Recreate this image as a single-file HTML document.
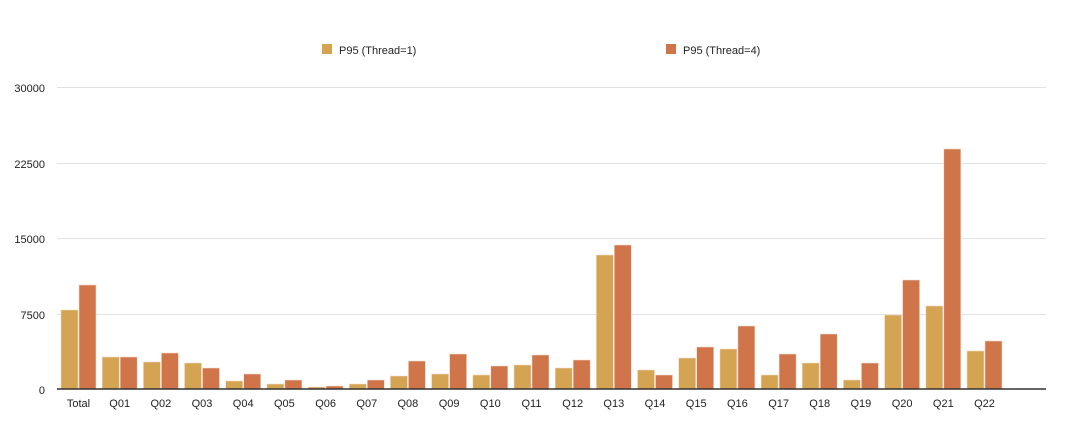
<!DOCTYPE html><html><head><style>body{margin:0;background:#fff}</style></head><body>
<svg width="1080" height="416" xmlns="http://www.w3.org/2000/svg" font-family="Liberation Sans, sans-serif" font-size="11" fill="#222">
<g stroke="#e2e2e2" stroke-width="1">
<line x1="57" x2="1046" y1="87.5" y2="87.5"/><line x1="57" x2="1046" y1="163.5" y2="163.5"/><line x1="57" x2="1046" y1="238.5" y2="238.5"/><line x1="57" x2="1046" y1="314.5" y2="314.5"/>
</g>
<g text-anchor="end"><text x="45" y="92">30000</text><text x="45" y="168">22500</text><text x="45" y="243">15000</text><text x="45" y="319">7500</text><text x="45" y="394">0</text></g>
<rect x="322" y="44" width="10" height="10" fill="#d4a453"/><text x="339" y="54">P95 (Thread=1)</text>
<rect x="666" y="44" width="10" height="10" fill="#d0744a"/><text x="683" y="54">P95 (Thread=4)</text>
<g fill="#d4a453" stroke="#f3dcc8" stroke-width="0.6">
<rect x="61" y="310" width="17" height="79"/>
<rect x="102.2" y="357" width="17" height="32"/>
<rect x="143.4" y="362" width="17" height="27"/>
<rect x="184.5" y="363" width="17" height="26"/>
<rect x="225.7" y="381" width="17" height="8"/>
<rect x="266.9" y="384" width="17" height="5"/>
<rect x="308.1" y="387" width="17" height="2"/>
<rect x="349.3" y="384" width="17" height="5"/>
<rect x="390.4" y="376" width="17" height="13"/>
<rect x="431.6" y="374" width="17" height="15"/>
<rect x="472.8" y="375" width="17" height="14"/>
<rect x="514" y="365" width="17" height="24"/>
<rect x="555.2" y="368" width="17" height="21"/>
<rect x="596.3" y="255" width="17" height="134"/>
<rect x="637.5" y="370" width="17" height="19"/>
<rect x="678.7" y="358" width="17" height="31"/>
<rect x="719.9" y="349" width="17" height="40"/>
<rect x="761.1" y="375" width="17" height="14"/>
<rect x="802.2" y="363" width="17" height="26"/>
<rect x="843.4" y="380" width="17" height="9"/>
<rect x="884.6" y="315" width="17" height="74"/>
<rect x="925.8" y="306" width="17" height="83"/>
<rect x="967" y="351" width="17" height="38"/>
</g>
<g fill="#d0744a" stroke="#f3dcc8" stroke-width="0.6">
<rect x="79" y="285" width="17" height="104"/>
<rect x="120.2" y="357" width="17" height="32"/>
<rect x="161.4" y="353" width="17" height="36"/>
<rect x="202.5" y="368" width="17" height="21"/>
<rect x="243.7" y="374" width="17" height="15"/>
<rect x="284.9" y="380" width="17" height="9"/>
<rect x="326.1" y="386" width="17" height="3"/>
<rect x="367.3" y="380" width="17" height="9"/>
<rect x="408.4" y="361" width="17" height="28"/>
<rect x="449.6" y="354" width="17" height="35"/>
<rect x="490.8" y="366" width="17" height="23"/>
<rect x="532" y="355" width="17" height="34"/>
<rect x="573.2" y="360" width="17" height="29"/>
<rect x="614.3" y="245" width="17" height="144"/>
<rect x="655.5" y="375" width="17" height="14"/>
<rect x="696.7" y="347" width="17" height="42"/>
<rect x="737.9" y="326" width="17" height="63"/>
<rect x="779.1" y="354" width="17" height="35"/>
<rect x="820.2" y="334" width="17" height="55"/>
<rect x="861.4" y="363" width="17" height="26"/>
<rect x="902.6" y="280" width="17" height="109"/>
<rect x="943.8" y="149" width="17" height="240"/>
<rect x="985" y="341" width="17" height="48"/>
</g>
<line x1="57" x2="1046" y1="389" y2="389" stroke="#333" stroke-width="1.5"/>
<g text-anchor="middle">
<text x="78.5" y="407">Total</text><text x="119.7" y="407">Q01</text><text x="160.9" y="407">Q02</text><text x="202" y="407">Q03</text><text x="243.2" y="407">Q04</text><text x="284.4" y="407">Q05</text><text x="325.6" y="407">Q06</text><text x="366.8" y="407">Q07</text><text x="407.9" y="407">Q08</text><text x="449.1" y="407">Q09</text><text x="490.3" y="407">Q10</text><text x="531.5" y="407">Q11</text><text x="572.7" y="407">Q12</text><text x="613.8" y="407">Q13</text><text x="655" y="407">Q14</text><text x="696.2" y="407">Q15</text><text x="737.4" y="407">Q16</text><text x="778.6" y="407">Q17</text><text x="819.7" y="407">Q18</text><text x="860.9" y="407">Q19</text><text x="902.1" y="407">Q20</text><text x="943.3" y="407">Q21</text><text x="984.5" y="407">Q22</text>
</g>
</svg></body></html>
